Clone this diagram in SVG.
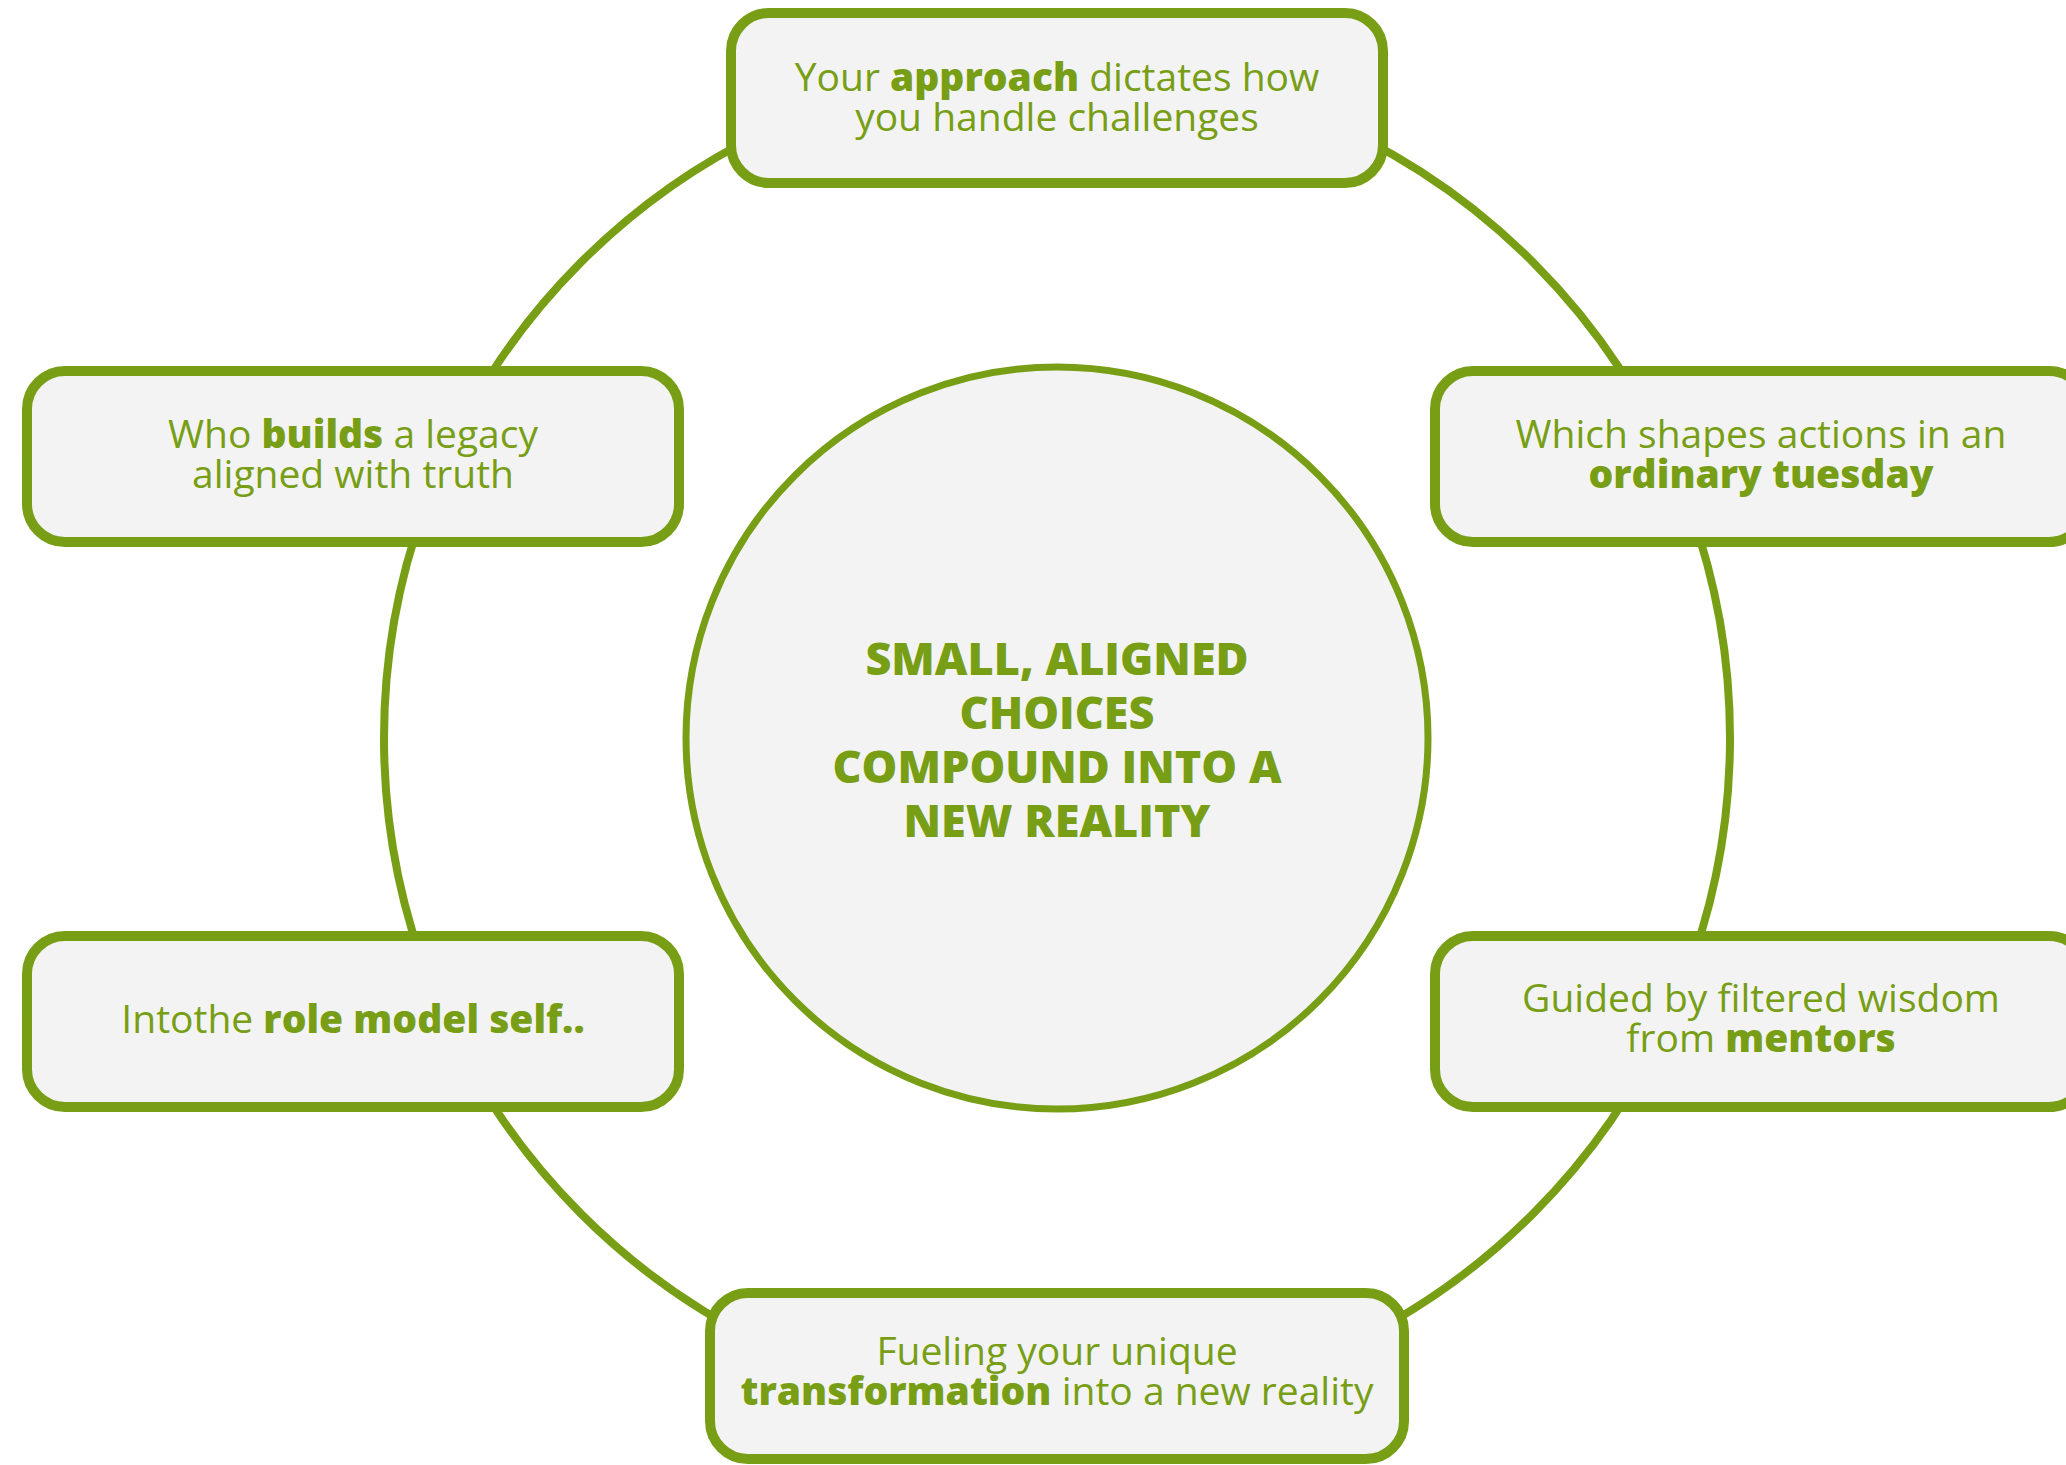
<svg xmlns="http://www.w3.org/2000/svg" width="2066" height="1465" viewBox="0 0 2066 1465">
<style>
.box{fill:#f3f3f3;stroke:#779e14;stroke-width:10}
.t{font-family:"Open Sans","Liberation Sans",sans-serif;font-size:39px;fill:#779e14;text-anchor:middle;font-weight:400}
.b{font-weight:800}
.c{font-family:"Open Sans","Liberation Sans",sans-serif;font-size:45px;fill:#779e14;text-anchor:middle;font-weight:800}
</style>
<rect width="2066" height="1465" fill="#ffffff"/>
<g id="connectors">
<circle cx="1057" cy="738" r="673" fill="none" stroke="#779e14" stroke-width="8"/>
</g>
<g id="center">
<circle cx="1057" cy="738" r="371" fill="#f3f3f3" stroke="#779e14" stroke-width="7"/>
<text class="c" x="1057" y="675">SMALL, ALIGNED</text>
<text class="c" x="1057" y="729">CHOICES</text>
<text class="c" x="1057" y="783">COMPOUND INTO A</text>
<text class="c" x="1057" y="837">NEW REALITY</text>
</g>
<g id="node-top">
<rect class="box" x="731" y="13" width="652" height="170" rx="38"/>
<text class="t" x="1057" y="91">Your <tspan class="b">approach</tspan> dictates how</text>
<text class="t" x="1057" y="131">you handle challenges</text>
</g>
<g id="node-right-top">
<rect class="box" x="1435" y="371" width="652" height="171" rx="38"/>
<text class="t" x="1761" y="448">Which shapes actions in an</text>
<text class="t b" x="1761" y="488">ordinary tuesday</text>
</g>
<g id="node-right-bottom">
<rect class="box" x="1435" y="936" width="652" height="171" rx="38"/>
<text class="t" x="1761" y="1012">Guided by filtered wisdom</text>
<text class="t" x="1761" y="1052">from <tspan class="b">mentors</tspan></text>
</g>
<g id="node-bottom">
<rect class="box" x="710" y="1293" width="694" height="166" rx="38"/>
<text class="t" x="1057" y="1365">Fueling your unique</text>
<text class="t" x="1057" y="1405"><tspan class="b">transformation</tspan> into a new reality</text>
</g>
<g id="node-left-bottom">
<rect class="box" x="27" y="936" width="652" height="171" rx="38"/>
<text class="t" x="353" y="1033">Intothe <tspan class="b">role model self..</tspan></text>
</g>
<g id="node-left-top">
<rect class="box" x="27" y="371" width="652" height="171" rx="38"/>
<text class="t" x="353" y="448">Who <tspan class="b">builds</tspan> a legacy</text>
<text class="t" x="353" y="488">aligned with truth</text>
</g>
</svg>
